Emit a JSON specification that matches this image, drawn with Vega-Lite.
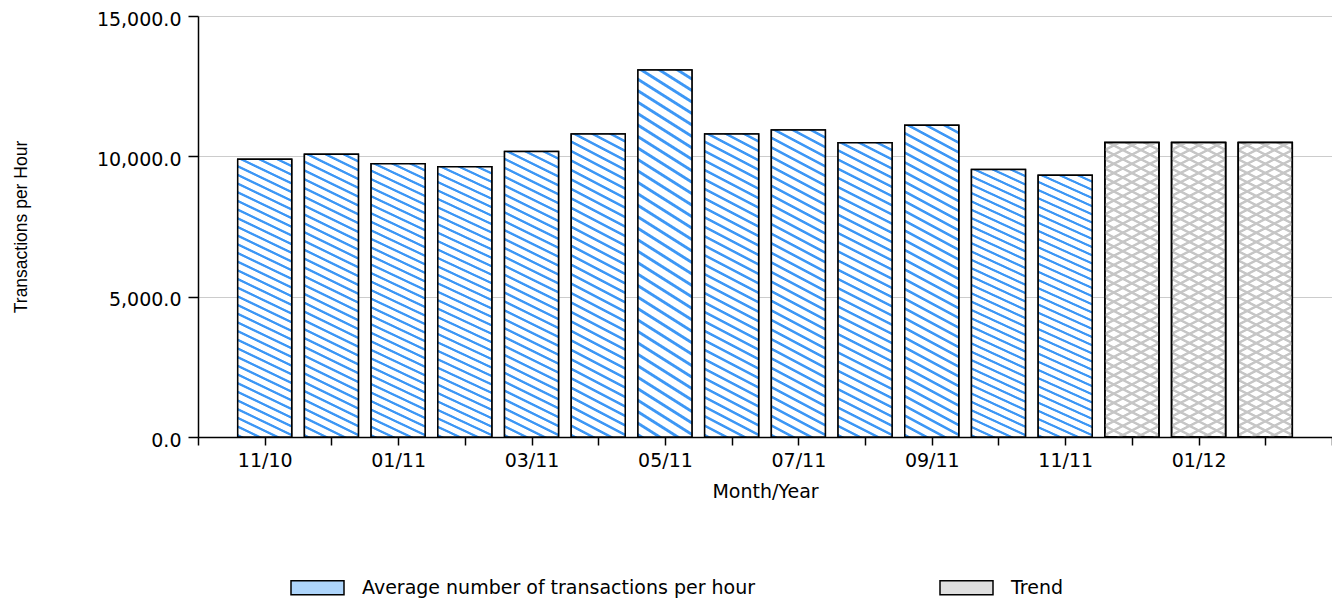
{
  "$schema": "https://vega.github.io/schema/vega-lite/v6.json",
  "width": 1134,
  "height": 421,
  "autosize": {"type": "none"},
  "padding": {"left": 198, "top": 16, "right": 0, "bottom": 162},
  "background": "white",
  "config": {"view": {"stroke": null}, "font": "DejaVu Sans"},
  "data": {
    "values": [
      {"month": "11/10", "value": 9900, "series": "Average number of transactions per hour"},
      {"month": "12/10", "value": 10070, "series": "Average number of transactions per hour"},
      {"month": "01/11", "value": 9740, "series": "Average number of transactions per hour"},
      {"month": "02/11", "value": 9630, "series": "Average number of transactions per hour"},
      {"month": "03/11", "value": 10170, "series": "Average number of transactions per hour"},
      {"month": "04/11", "value": 10800, "series": "Average number of transactions per hour"},
      {"month": "05/11", "value": 13080, "series": "Average number of transactions per hour"},
      {"month": "06/11", "value": 10800, "series": "Average number of transactions per hour"},
      {"month": "07/11", "value": 10940, "series": "Average number of transactions per hour"},
      {"month": "08/11", "value": 10480, "series": "Average number of transactions per hour"},
      {"month": "09/11", "value": 11110, "series": "Average number of transactions per hour"},
      {"month": "10/11", "value": 9530, "series": "Average number of transactions per hour"},
      {"month": "11/11", "value": 9330, "series": "Average number of transactions per hour"},
      {"month": "12/11", "value": 10490, "series": "Trend"},
      {"month": "01/12", "value": 10490, "series": "Trend"},
      {"month": "02/12", "value": 10490, "series": "Trend"}
    ]
  },
  "encoding": {
    "x": {
      "field": "month",
      "type": "ordinal",
      "sort": null,
      "scale": {
        "type": "point",
        "padding": 0,
        "domain": ["10/10", "11/10", "12/10", "01/11", "02/11", "03/11", "04/11", "05/11", "06/11", "07/11", "08/11", "09/11", "10/11", "11/11", "12/11", "01/12", "02/12", "03/12"]
      },
      "axis": {
        "title": "Month/Year",
        "grid": false,
        "labelExpr": "indexof(['11/10','01/11','03/11','05/11','07/11','09/11','11/11','01/12'], datum.value) >= 0 ? datum.value : ''",
        "labelAngle": 0,
        "labelOverlap": false,
        "labelFlush": false,
        "domainColor": "black",
        "domainWidth": 1.5,
        "tickColor": "black",
        "tickWidth": 1.5,
        "tickSize": 8,
        "labelFont": "DejaVu Sans",
        "labelFontSize": 19,
        "labelColor": "black",
        "labelPadding": 6,
        "titleFont": "DejaVu Sans",
        "titleFontSize": 19,
        "titleFontWeight": "normal",
        "titleColor": "black",
        "titleBaseline": "alphabetic",
        "titleX": 567,
        "titleY": 60
      }
    },
    "y": {
      "field": "value",
      "type": "quantitative",
      "scale": {"domain": [0, 15000], "nice": false},
      "axis": {
        "title": "Transactions per Hour",
        "values": [0, 5000, 10000, 15000],
        "format": ",.1f",
        "grid": true,
        "gridColor": "#cccccc",
        "gridWidth": 1,
        "domainColor": "black",
        "domainWidth": 1.5,
        "tickColor": "black",
        "tickWidth": 1.5,
        "tickSize": 10,
        "labelFont": "DejaVu Sans",
        "labelFontSize": 19,
        "labelColor": "black",
        "labelPadding": 7,
        "labelOffset": 3,
        "titleFont": "Liberation Sans",
        "titleFontSize": 17.5,
        "titleFontWeight": "normal",
        "titleColor": "black",
        "titleAngle": 270,
        "titleAlign": "center",
        "titleBaseline": "alphabetic",
        "titleX": -172,
        "titleY": 210.5
      }
    }
  },
  "layer": [
    {
      "mark": {"type": "bar", "size": 54, "stroke": "black", "strokeWidth": 1.5},
      "encoding": {
        "fill": {
          "field": "series",
          "type": "nominal",
          "scale": {
            "domain": ["Average number of transactions per hour", "Trend"],
            "range": ["#aed5fb", "#dfdfdf"]
          },
          "legend": {
            "title": null,
            "orient": "none",
            "direction": "horizontal",
            "legendX": 92,
            "legendY": 544,
            "padding": 0,
            "symbolType": "M-1,-0.26H1V0.26H-1Z",
            "symbolSize": 2809,
            "symbolStrokeColor": "black",
            "symbolStrokeWidth": 1.5,
            "labelFont": "DejaVu Sans",
            "labelFontSize": 19,
            "labelColor": "black",
            "labelOffset": 17,
            "columnPadding": 182,
            "labelLimit": 700
          }
        }
      }
    },
    {
      "transform": [{"filter": "datum.series == 'Average number of transactions per hour'"}],
      "mark": {
        "type": "bar",
        "size": 54,
        "stroke": "black",
        "strokeWidth": 1.5,
        "fill": {
          "gradient": "linear",
          "x1": 1, "y1": 0, "x2": 0.8991, "y2": 1.0837,
          "stops": [
            {"offset": 0.0000, "color": "#ffffff"}, {"offset": 0.0171, "color": "#ffffff"}, {"offset": 0.0200, "color": "#3d97f5"}, {"offset": 0.0257, "color": "#3d97f5"},
            {"offset": 0.0286, "color": "#ffffff"}, {"offset": 0.0457, "color": "#ffffff"}, {"offset": 0.0486, "color": "#3d97f5"}, {"offset": 0.0543, "color": "#3d97f5"},
            {"offset": 0.0571, "color": "#ffffff"}, {"offset": 0.0743, "color": "#ffffff"}, {"offset": 0.0771, "color": "#3d97f5"}, {"offset": 0.0829, "color": "#3d97f5"},
            {"offset": 0.0857, "color": "#ffffff"}, {"offset": 0.1029, "color": "#ffffff"}, {"offset": 0.1057, "color": "#3d97f5"}, {"offset": 0.1114, "color": "#3d97f5"},
            {"offset": 0.1143, "color": "#ffffff"}, {"offset": 0.1314, "color": "#ffffff"}, {"offset": 0.1343, "color": "#3d97f5"}, {"offset": 0.1400, "color": "#3d97f5"},
            {"offset": 0.1429, "color": "#ffffff"}, {"offset": 0.1600, "color": "#ffffff"}, {"offset": 0.1629, "color": "#3d97f5"}, {"offset": 0.1686, "color": "#3d97f5"},
            {"offset": 0.1714, "color": "#ffffff"}, {"offset": 0.1886, "color": "#ffffff"}, {"offset": 0.1914, "color": "#3d97f5"}, {"offset": 0.1971, "color": "#3d97f5"},
            {"offset": 0.2000, "color": "#ffffff"}, {"offset": 0.2171, "color": "#ffffff"}, {"offset": 0.2200, "color": "#3d97f5"}, {"offset": 0.2257, "color": "#3d97f5"},
            {"offset": 0.2286, "color": "#ffffff"}, {"offset": 0.2457, "color": "#ffffff"}, {"offset": 0.2486, "color": "#3d97f5"}, {"offset": 0.2543, "color": "#3d97f5"},
            {"offset": 0.2571, "color": "#ffffff"}, {"offset": 0.2743, "color": "#ffffff"}, {"offset": 0.2771, "color": "#3d97f5"}, {"offset": 0.2829, "color": "#3d97f5"},
            {"offset": 0.2857, "color": "#ffffff"}, {"offset": 0.3029, "color": "#ffffff"}, {"offset": 0.3057, "color": "#3d97f5"}, {"offset": 0.3114, "color": "#3d97f5"},
            {"offset": 0.3143, "color": "#ffffff"}, {"offset": 0.3314, "color": "#ffffff"}, {"offset": 0.3343, "color": "#3d97f5"}, {"offset": 0.3400, "color": "#3d97f5"},
            {"offset": 0.3429, "color": "#ffffff"}, {"offset": 0.3600, "color": "#ffffff"}, {"offset": 0.3629, "color": "#3d97f5"}, {"offset": 0.3686, "color": "#3d97f5"},
            {"offset": 0.3714, "color": "#ffffff"}, {"offset": 0.3886, "color": "#ffffff"}, {"offset": 0.3914, "color": "#3d97f5"}, {"offset": 0.3971, "color": "#3d97f5"},
            {"offset": 0.4000, "color": "#ffffff"}, {"offset": 0.4171, "color": "#ffffff"}, {"offset": 0.4200, "color": "#3d97f5"}, {"offset": 0.4257, "color": "#3d97f5"},
            {"offset": 0.4286, "color": "#ffffff"}, {"offset": 0.4457, "color": "#ffffff"}, {"offset": 0.4486, "color": "#3d97f5"}, {"offset": 0.4543, "color": "#3d97f5"},
            {"offset": 0.4571, "color": "#ffffff"}, {"offset": 0.4743, "color": "#ffffff"}, {"offset": 0.4771, "color": "#3d97f5"}, {"offset": 0.4829, "color": "#3d97f5"},
            {"offset": 0.4857, "color": "#ffffff"}, {"offset": 0.5029, "color": "#ffffff"}, {"offset": 0.5057, "color": "#3d97f5"}, {"offset": 0.5114, "color": "#3d97f5"},
            {"offset": 0.5143, "color": "#ffffff"}, {"offset": 0.5314, "color": "#ffffff"}, {"offset": 0.5343, "color": "#3d97f5"}, {"offset": 0.5400, "color": "#3d97f5"},
            {"offset": 0.5429, "color": "#ffffff"}, {"offset": 0.5600, "color": "#ffffff"}, {"offset": 0.5629, "color": "#3d97f5"}, {"offset": 0.5686, "color": "#3d97f5"},
            {"offset": 0.5714, "color": "#ffffff"}, {"offset": 0.5886, "color": "#ffffff"}, {"offset": 0.5914, "color": "#3d97f5"}, {"offset": 0.5971, "color": "#3d97f5"},
            {"offset": 0.6000, "color": "#ffffff"}, {"offset": 0.6171, "color": "#ffffff"}, {"offset": 0.6200, "color": "#3d97f5"}, {"offset": 0.6257, "color": "#3d97f5"},
            {"offset": 0.6286, "color": "#ffffff"}, {"offset": 0.6457, "color": "#ffffff"}, {"offset": 0.6486, "color": "#3d97f5"}, {"offset": 0.6543, "color": "#3d97f5"},
            {"offset": 0.6571, "color": "#ffffff"}, {"offset": 0.6743, "color": "#ffffff"}, {"offset": 0.6771, "color": "#3d97f5"}, {"offset": 0.6829, "color": "#3d97f5"},
            {"offset": 0.6857, "color": "#ffffff"}, {"offset": 0.7029, "color": "#ffffff"}, {"offset": 0.7057, "color": "#3d97f5"}, {"offset": 0.7114, "color": "#3d97f5"},
            {"offset": 0.7143, "color": "#ffffff"}, {"offset": 0.7314, "color": "#ffffff"}, {"offset": 0.7343, "color": "#3d97f5"}, {"offset": 0.7400, "color": "#3d97f5"},
            {"offset": 0.7429, "color": "#ffffff"}, {"offset": 0.7600, "color": "#ffffff"}, {"offset": 0.7629, "color": "#3d97f5"}, {"offset": 0.7686, "color": "#3d97f5"},
            {"offset": 0.7714, "color": "#ffffff"}, {"offset": 0.7886, "color": "#ffffff"}, {"offset": 0.7914, "color": "#3d97f5"}, {"offset": 0.7971, "color": "#3d97f5"},
            {"offset": 0.8000, "color": "#ffffff"}, {"offset": 0.8171, "color": "#ffffff"}, {"offset": 0.8200, "color": "#3d97f5"}, {"offset": 0.8257, "color": "#3d97f5"},
            {"offset": 0.8286, "color": "#ffffff"}, {"offset": 0.8457, "color": "#ffffff"}, {"offset": 0.8486, "color": "#3d97f5"}, {"offset": 0.8543, "color": "#3d97f5"},
            {"offset": 0.8571, "color": "#ffffff"}, {"offset": 0.8743, "color": "#ffffff"}, {"offset": 0.8771, "color": "#3d97f5"}, {"offset": 0.8829, "color": "#3d97f5"},
            {"offset": 0.8857, "color": "#ffffff"}, {"offset": 0.9029, "color": "#ffffff"}, {"offset": 0.9057, "color": "#3d97f5"}, {"offset": 0.9114, "color": "#3d97f5"},
            {"offset": 0.9143, "color": "#ffffff"}, {"offset": 0.9314, "color": "#ffffff"}, {"offset": 0.9343, "color": "#3d97f5"}, {"offset": 0.9400, "color": "#3d97f5"},
            {"offset": 0.9429, "color": "#ffffff"}, {"offset": 0.9600, "color": "#ffffff"}, {"offset": 0.9629, "color": "#3d97f5"}, {"offset": 0.9686, "color": "#3d97f5"},
            {"offset": 0.9714, "color": "#ffffff"}, {"offset": 0.9886, "color": "#ffffff"}, {"offset": 0.9914, "color": "#3d97f5"}, {"offset": 0.9971, "color": "#3d97f5"},
            {"offset": 1.0000, "color": "#ffffff"}
          ]
        }
      }
    },
    {
      "transform": [{"filter": "datum.series == 'Trend'"}],
      "mark": {
        "type": "bar",
        "size": 54,
        "stroke": "black",
        "strokeWidth": 1.5,
        "fill": {
          "gradient": "linear",
          "x1": 1, "y1": 0, "x2": 0.8991, "y2": 1.0837,
          "stops": [
            {"offset": 0.0000, "color": "#ffffff"}, {"offset": 0.0171, "color": "#ffffff"}, {"offset": 0.0200, "color": "#c6c6c6"}, {"offset": 0.0257, "color": "#c6c6c6"},
            {"offset": 0.0286, "color": "#ffffff"}, {"offset": 0.0457, "color": "#ffffff"}, {"offset": 0.0486, "color": "#c6c6c6"}, {"offset": 0.0543, "color": "#c6c6c6"},
            {"offset": 0.0571, "color": "#ffffff"}, {"offset": 0.0743, "color": "#ffffff"}, {"offset": 0.0771, "color": "#c6c6c6"}, {"offset": 0.0829, "color": "#c6c6c6"},
            {"offset": 0.0857, "color": "#ffffff"}, {"offset": 0.1029, "color": "#ffffff"}, {"offset": 0.1057, "color": "#c6c6c6"}, {"offset": 0.1114, "color": "#c6c6c6"},
            {"offset": 0.1143, "color": "#ffffff"}, {"offset": 0.1314, "color": "#ffffff"}, {"offset": 0.1343, "color": "#c6c6c6"}, {"offset": 0.1400, "color": "#c6c6c6"},
            {"offset": 0.1429, "color": "#ffffff"}, {"offset": 0.1600, "color": "#ffffff"}, {"offset": 0.1629, "color": "#c6c6c6"}, {"offset": 0.1686, "color": "#c6c6c6"},
            {"offset": 0.1714, "color": "#ffffff"}, {"offset": 0.1886, "color": "#ffffff"}, {"offset": 0.1914, "color": "#c6c6c6"}, {"offset": 0.1971, "color": "#c6c6c6"},
            {"offset": 0.2000, "color": "#ffffff"}, {"offset": 0.2171, "color": "#ffffff"}, {"offset": 0.2200, "color": "#c6c6c6"}, {"offset": 0.2257, "color": "#c6c6c6"},
            {"offset": 0.2286, "color": "#ffffff"}, {"offset": 0.2457, "color": "#ffffff"}, {"offset": 0.2486, "color": "#c6c6c6"}, {"offset": 0.2543, "color": "#c6c6c6"},
            {"offset": 0.2571, "color": "#ffffff"}, {"offset": 0.2743, "color": "#ffffff"}, {"offset": 0.2771, "color": "#c6c6c6"}, {"offset": 0.2829, "color": "#c6c6c6"},
            {"offset": 0.2857, "color": "#ffffff"}, {"offset": 0.3029, "color": "#ffffff"}, {"offset": 0.3057, "color": "#c6c6c6"}, {"offset": 0.3114, "color": "#c6c6c6"},
            {"offset": 0.3143, "color": "#ffffff"}, {"offset": 0.3314, "color": "#ffffff"}, {"offset": 0.3343, "color": "#c6c6c6"}, {"offset": 0.3400, "color": "#c6c6c6"},
            {"offset": 0.3429, "color": "#ffffff"}, {"offset": 0.3600, "color": "#ffffff"}, {"offset": 0.3629, "color": "#c6c6c6"}, {"offset": 0.3686, "color": "#c6c6c6"},
            {"offset": 0.3714, "color": "#ffffff"}, {"offset": 0.3886, "color": "#ffffff"}, {"offset": 0.3914, "color": "#c6c6c6"}, {"offset": 0.3971, "color": "#c6c6c6"},
            {"offset": 0.4000, "color": "#ffffff"}, {"offset": 0.4171, "color": "#ffffff"}, {"offset": 0.4200, "color": "#c6c6c6"}, {"offset": 0.4257, "color": "#c6c6c6"},
            {"offset": 0.4286, "color": "#ffffff"}, {"offset": 0.4457, "color": "#ffffff"}, {"offset": 0.4486, "color": "#c6c6c6"}, {"offset": 0.4543, "color": "#c6c6c6"},
            {"offset": 0.4571, "color": "#ffffff"}, {"offset": 0.4743, "color": "#ffffff"}, {"offset": 0.4771, "color": "#c6c6c6"}, {"offset": 0.4829, "color": "#c6c6c6"},
            {"offset": 0.4857, "color": "#ffffff"}, {"offset": 0.5029, "color": "#ffffff"}, {"offset": 0.5057, "color": "#c6c6c6"}, {"offset": 0.5114, "color": "#c6c6c6"},
            {"offset": 0.5143, "color": "#ffffff"}, {"offset": 0.5314, "color": "#ffffff"}, {"offset": 0.5343, "color": "#c6c6c6"}, {"offset": 0.5400, "color": "#c6c6c6"},
            {"offset": 0.5429, "color": "#ffffff"}, {"offset": 0.5600, "color": "#ffffff"}, {"offset": 0.5629, "color": "#c6c6c6"}, {"offset": 0.5686, "color": "#c6c6c6"},
            {"offset": 0.5714, "color": "#ffffff"}, {"offset": 0.5886, "color": "#ffffff"}, {"offset": 0.5914, "color": "#c6c6c6"}, {"offset": 0.5971, "color": "#c6c6c6"},
            {"offset": 0.6000, "color": "#ffffff"}, {"offset": 0.6171, "color": "#ffffff"}, {"offset": 0.6200, "color": "#c6c6c6"}, {"offset": 0.6257, "color": "#c6c6c6"},
            {"offset": 0.6286, "color": "#ffffff"}, {"offset": 0.6457, "color": "#ffffff"}, {"offset": 0.6486, "color": "#c6c6c6"}, {"offset": 0.6543, "color": "#c6c6c6"},
            {"offset": 0.6571, "color": "#ffffff"}, {"offset": 0.6743, "color": "#ffffff"}, {"offset": 0.6771, "color": "#c6c6c6"}, {"offset": 0.6829, "color": "#c6c6c6"},
            {"offset": 0.6857, "color": "#ffffff"}, {"offset": 0.7029, "color": "#ffffff"}, {"offset": 0.7057, "color": "#c6c6c6"}, {"offset": 0.7114, "color": "#c6c6c6"},
            {"offset": 0.7143, "color": "#ffffff"}, {"offset": 0.7314, "color": "#ffffff"}, {"offset": 0.7343, "color": "#c6c6c6"}, {"offset": 0.7400, "color": "#c6c6c6"},
            {"offset": 0.7429, "color": "#ffffff"}, {"offset": 0.7600, "color": "#ffffff"}, {"offset": 0.7629, "color": "#c6c6c6"}, {"offset": 0.7686, "color": "#c6c6c6"},
            {"offset": 0.7714, "color": "#ffffff"}, {"offset": 0.7886, "color": "#ffffff"}, {"offset": 0.7914, "color": "#c6c6c6"}, {"offset": 0.7971, "color": "#c6c6c6"},
            {"offset": 0.8000, "color": "#ffffff"}, {"offset": 0.8171, "color": "#ffffff"}, {"offset": 0.8200, "color": "#c6c6c6"}, {"offset": 0.8257, "color": "#c6c6c6"},
            {"offset": 0.8286, "color": "#ffffff"}, {"offset": 0.8457, "color": "#ffffff"}, {"offset": 0.8486, "color": "#c6c6c6"}, {"offset": 0.8543, "color": "#c6c6c6"},
            {"offset": 0.8571, "color": "#ffffff"}, {"offset": 0.8743, "color": "#ffffff"}, {"offset": 0.8771, "color": "#c6c6c6"}, {"offset": 0.8829, "color": "#c6c6c6"},
            {"offset": 0.8857, "color": "#ffffff"}, {"offset": 0.9029, "color": "#ffffff"}, {"offset": 0.9057, "color": "#c6c6c6"}, {"offset": 0.9114, "color": "#c6c6c6"},
            {"offset": 0.9143, "color": "#ffffff"}, {"offset": 0.9314, "color": "#ffffff"}, {"offset": 0.9343, "color": "#c6c6c6"}, {"offset": 0.9400, "color": "#c6c6c6"},
            {"offset": 0.9429, "color": "#ffffff"}, {"offset": 0.9600, "color": "#ffffff"}, {"offset": 0.9629, "color": "#c6c6c6"}, {"offset": 0.9686, "color": "#c6c6c6"},
            {"offset": 0.9714, "color": "#ffffff"}, {"offset": 0.9886, "color": "#ffffff"}, {"offset": 0.9914, "color": "#c6c6c6"}, {"offset": 0.9971, "color": "#c6c6c6"},
            {"offset": 1.0000, "color": "#ffffff"}
          ]
        }
      }
    },
    {
      "transform": [{"filter": "datum.series == 'Trend'"}],
      "mark": {
        "type": "bar",
        "size": 54,
        "stroke": "black",
        "strokeWidth": 1.5,
        "fill": {
          "gradient": "linear",
          "x1": 0, "y1": 0, "x2": 0.1009, "y2": 1.0837,
          "stops": [
            {"offset": 0.0000, "color": "rgba(198,198,198,0)"}, {"offset": 0.0171, "color": "rgba(198,198,198,0)"}, {"offset": 0.0200, "color": "#c6c6c6"}, {"offset": 0.0257, "color": "#c6c6c6"},
            {"offset": 0.0286, "color": "rgba(198,198,198,0)"}, {"offset": 0.0457, "color": "rgba(198,198,198,0)"}, {"offset": 0.0486, "color": "#c6c6c6"}, {"offset": 0.0543, "color": "#c6c6c6"},
            {"offset": 0.0571, "color": "rgba(198,198,198,0)"}, {"offset": 0.0743, "color": "rgba(198,198,198,0)"}, {"offset": 0.0771, "color": "#c6c6c6"}, {"offset": 0.0829, "color": "#c6c6c6"},
            {"offset": 0.0857, "color": "rgba(198,198,198,0)"}, {"offset": 0.1029, "color": "rgba(198,198,198,0)"}, {"offset": 0.1057, "color": "#c6c6c6"}, {"offset": 0.1114, "color": "#c6c6c6"},
            {"offset": 0.1143, "color": "rgba(198,198,198,0)"}, {"offset": 0.1314, "color": "rgba(198,198,198,0)"}, {"offset": 0.1343, "color": "#c6c6c6"}, {"offset": 0.1400, "color": "#c6c6c6"},
            {"offset": 0.1429, "color": "rgba(198,198,198,0)"}, {"offset": 0.1600, "color": "rgba(198,198,198,0)"}, {"offset": 0.1629, "color": "#c6c6c6"}, {"offset": 0.1686, "color": "#c6c6c6"},
            {"offset": 0.1714, "color": "rgba(198,198,198,0)"}, {"offset": 0.1886, "color": "rgba(198,198,198,0)"}, {"offset": 0.1914, "color": "#c6c6c6"}, {"offset": 0.1971, "color": "#c6c6c6"},
            {"offset": 0.2000, "color": "rgba(198,198,198,0)"}, {"offset": 0.2171, "color": "rgba(198,198,198,0)"}, {"offset": 0.2200, "color": "#c6c6c6"}, {"offset": 0.2257, "color": "#c6c6c6"},
            {"offset": 0.2286, "color": "rgba(198,198,198,0)"}, {"offset": 0.2457, "color": "rgba(198,198,198,0)"}, {"offset": 0.2486, "color": "#c6c6c6"}, {"offset": 0.2543, "color": "#c6c6c6"},
            {"offset": 0.2571, "color": "rgba(198,198,198,0)"}, {"offset": 0.2743, "color": "rgba(198,198,198,0)"}, {"offset": 0.2771, "color": "#c6c6c6"}, {"offset": 0.2829, "color": "#c6c6c6"},
            {"offset": 0.2857, "color": "rgba(198,198,198,0)"}, {"offset": 0.3029, "color": "rgba(198,198,198,0)"}, {"offset": 0.3057, "color": "#c6c6c6"}, {"offset": 0.3114, "color": "#c6c6c6"},
            {"offset": 0.3143, "color": "rgba(198,198,198,0)"}, {"offset": 0.3314, "color": "rgba(198,198,198,0)"}, {"offset": 0.3343, "color": "#c6c6c6"}, {"offset": 0.3400, "color": "#c6c6c6"},
            {"offset": 0.3429, "color": "rgba(198,198,198,0)"}, {"offset": 0.3600, "color": "rgba(198,198,198,0)"}, {"offset": 0.3629, "color": "#c6c6c6"}, {"offset": 0.3686, "color": "#c6c6c6"},
            {"offset": 0.3714, "color": "rgba(198,198,198,0)"}, {"offset": 0.3886, "color": "rgba(198,198,198,0)"}, {"offset": 0.3914, "color": "#c6c6c6"}, {"offset": 0.3971, "color": "#c6c6c6"},
            {"offset": 0.4000, "color": "rgba(198,198,198,0)"}, {"offset": 0.4171, "color": "rgba(198,198,198,0)"}, {"offset": 0.4200, "color": "#c6c6c6"}, {"offset": 0.4257, "color": "#c6c6c6"},
            {"offset": 0.4286, "color": "rgba(198,198,198,0)"}, {"offset": 0.4457, "color": "rgba(198,198,198,0)"}, {"offset": 0.4486, "color": "#c6c6c6"}, {"offset": 0.4543, "color": "#c6c6c6"},
            {"offset": 0.4571, "color": "rgba(198,198,198,0)"}, {"offset": 0.4743, "color": "rgba(198,198,198,0)"}, {"offset": 0.4771, "color": "#c6c6c6"}, {"offset": 0.4829, "color": "#c6c6c6"},
            {"offset": 0.4857, "color": "rgba(198,198,198,0)"}, {"offset": 0.5029, "color": "rgba(198,198,198,0)"}, {"offset": 0.5057, "color": "#c6c6c6"}, {"offset": 0.5114, "color": "#c6c6c6"},
            {"offset": 0.5143, "color": "rgba(198,198,198,0)"}, {"offset": 0.5314, "color": "rgba(198,198,198,0)"}, {"offset": 0.5343, "color": "#c6c6c6"}, {"offset": 0.5400, "color": "#c6c6c6"},
            {"offset": 0.5429, "color": "rgba(198,198,198,0)"}, {"offset": 0.5600, "color": "rgba(198,198,198,0)"}, {"offset": 0.5629, "color": "#c6c6c6"}, {"offset": 0.5686, "color": "#c6c6c6"},
            {"offset": 0.5714, "color": "rgba(198,198,198,0)"}, {"offset": 0.5886, "color": "rgba(198,198,198,0)"}, {"offset": 0.5914, "color": "#c6c6c6"}, {"offset": 0.5971, "color": "#c6c6c6"},
            {"offset": 0.6000, "color": "rgba(198,198,198,0)"}, {"offset": 0.6171, "color": "rgba(198,198,198,0)"}, {"offset": 0.6200, "color": "#c6c6c6"}, {"offset": 0.6257, "color": "#c6c6c6"},
            {"offset": 0.6286, "color": "rgba(198,198,198,0)"}, {"offset": 0.6457, "color": "rgba(198,198,198,0)"}, {"offset": 0.6486, "color": "#c6c6c6"}, {"offset": 0.6543, "color": "#c6c6c6"},
            {"offset": 0.6571, "color": "rgba(198,198,198,0)"}, {"offset": 0.6743, "color": "rgba(198,198,198,0)"}, {"offset": 0.6771, "color": "#c6c6c6"}, {"offset": 0.6829, "color": "#c6c6c6"},
            {"offset": 0.6857, "color": "rgba(198,198,198,0)"}, {"offset": 0.7029, "color": "rgba(198,198,198,0)"}, {"offset": 0.7057, "color": "#c6c6c6"}, {"offset": 0.7114, "color": "#c6c6c6"},
            {"offset": 0.7143, "color": "rgba(198,198,198,0)"}, {"offset": 0.7314, "color": "rgba(198,198,198,0)"}, {"offset": 0.7343, "color": "#c6c6c6"}, {"offset": 0.7400, "color": "#c6c6c6"},
            {"offset": 0.7429, "color": "rgba(198,198,198,0)"}, {"offset": 0.7600, "color": "rgba(198,198,198,0)"}, {"offset": 0.7629, "color": "#c6c6c6"}, {"offset": 0.7686, "color": "#c6c6c6"},
            {"offset": 0.7714, "color": "rgba(198,198,198,0)"}, {"offset": 0.7886, "color": "rgba(198,198,198,0)"}, {"offset": 0.7914, "color": "#c6c6c6"}, {"offset": 0.7971, "color": "#c6c6c6"},
            {"offset": 0.8000, "color": "rgba(198,198,198,0)"}, {"offset": 0.8171, "color": "rgba(198,198,198,0)"}, {"offset": 0.8200, "color": "#c6c6c6"}, {"offset": 0.8257, "color": "#c6c6c6"},
            {"offset": 0.8286, "color": "rgba(198,198,198,0)"}, {"offset": 0.8457, "color": "rgba(198,198,198,0)"}, {"offset": 0.8486, "color": "#c6c6c6"}, {"offset": 0.8543, "color": "#c6c6c6"},
            {"offset": 0.8571, "color": "rgba(198,198,198,0)"}, {"offset": 0.8743, "color": "rgba(198,198,198,0)"}, {"offset": 0.8771, "color": "#c6c6c6"}, {"offset": 0.8829, "color": "#c6c6c6"},
            {"offset": 0.8857, "color": "rgba(198,198,198,0)"}, {"offset": 0.9029, "color": "rgba(198,198,198,0)"}, {"offset": 0.9057, "color": "#c6c6c6"}, {"offset": 0.9114, "color": "#c6c6c6"},
            {"offset": 0.9143, "color": "rgba(198,198,198,0)"}, {"offset": 0.9314, "color": "rgba(198,198,198,0)"}, {"offset": 0.9343, "color": "#c6c6c6"}, {"offset": 0.9400, "color": "#c6c6c6"},
            {"offset": 0.9429, "color": "rgba(198,198,198,0)"}, {"offset": 0.9600, "color": "rgba(198,198,198,0)"}, {"offset": 0.9629, "color": "#c6c6c6"}, {"offset": 0.9686, "color": "#c6c6c6"},
            {"offset": 0.9714, "color": "rgba(198,198,198,0)"}, {"offset": 0.9886, "color": "rgba(198,198,198,0)"}, {"offset": 0.9914, "color": "#c6c6c6"}, {"offset": 0.9971, "color": "#c6c6c6"},
            {"offset": 1.0000, "color": "rgba(198,198,198,0)"}
          ]
        }
      }
    }
  ]
}
